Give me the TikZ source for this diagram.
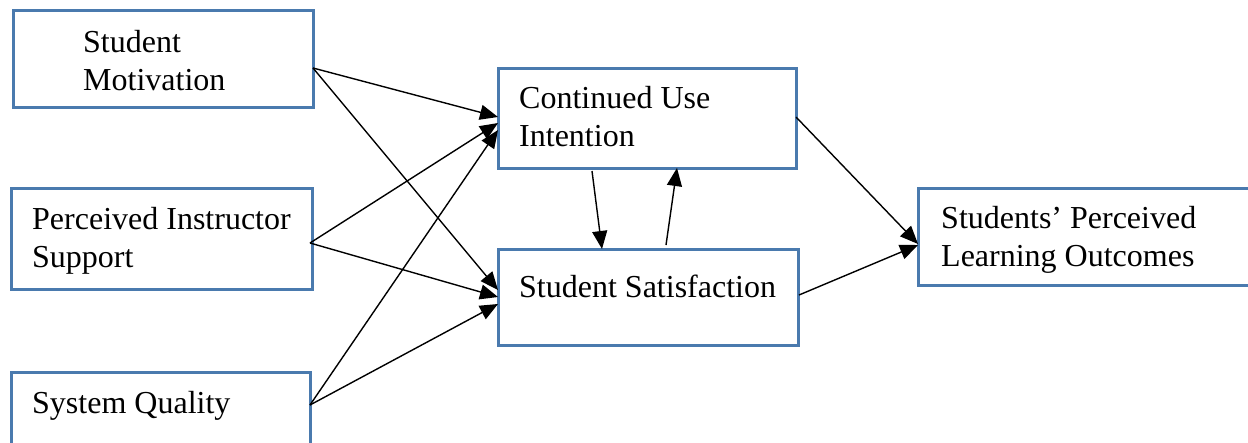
\documentclass[tikz,border=0pt]{standalone}
\usepackage{fontspec}
\setmainfont{Liberation Serif}
\usetikzlibrary{arrows.meta,calc}
\definecolor{boxblue}{HTML}{4A7AAE}
\begin{document}
\begin{tikzpicture}[x=1pt,y=-1pt,
  box/.style={draw=boxblue,line width=3pt,rectangle,anchor=north west,inner sep=0pt,outer sep=0pt},
  lbl/.style={anchor=base west,inner sep=0pt,font=\fontsize{32}{38.7}\selectfont},
  conn/.style={draw=black,line width=1.4pt,-{Triangle[length=18pt,width=15pt]}}]
\useasboundingbox (0,0) rectangle (1248,442);
\clip (0,0) rectangle (1248,442);
\node[box,minimum width=300pt,minimum height=97pt] (sm) at (13,10) {};
\node[box,minimum width=301pt,minimum height=101pt] (pis) at (11,188) {};
\node[box,minimum width=299pt,minimum height=95pt] (sq) at (11,372) {};
\node[box,minimum width=298pt,minimum height=100pt] (cui) at (498,68) {};
\node[box,minimum width=300pt,minimum height=96pt] (ss) at (498,249) {};
\node[box,minimum width=345pt,minimum height=97pt] (splo) at (918,188) {};
\node[lbl] (tsm) at (83,52) {\begin{tabular}[t]{@{}l@{}}Student\\Motivation\end{tabular}};
\node[lbl] (tpis) at (32,229) {\begin{tabular}[t]{@{}l@{}}Perceived Instructor\\Support\end{tabular}};
\node[lbl] (tsq) at (32,413) {System Quality};
\node[lbl] (tcui) at (519,108) {\begin{tabular}[t]{@{}l@{}}Continued Use\\Intention\end{tabular}};
\node[lbl] (tss) at (519,297) {Student Satisfaction};
\node[lbl] (tsplo) at (941,228) {\begin{tabular}[t]{@{}l@{}}Students’ Perceived\\Learning Outcomes\end{tabular}};
% source ports
\coordinate (psm) at ($(sm.north east)+(0,58)$);
\coordinate (ppis) at ($(pis.north east)+(-2,55)$);
\coordinate (psq) at ($(sq.north east)+(0,33)$);
% connectors
\draw[conn] (psm) -- ($(cui.north west)+(0,49)$);
\draw[conn] (psm) -- ($(ss.north west)+(0,41)$);
\draw[conn] (ppis) -- ($(cui.north west)+(0,55)$);
\draw[conn] (ppis) -- ($(ss.north west)+(0,48)$);
\draw[conn] (psq) -- ($(cui.north west)+(0,62)$);
\draw[conn] (psq) -- ($(ss.north west)+(0,55)$);
\draw[conn] ($(cui.south west)+(94,3)$) -- ($(ss.north west)+(104,0)$);
\draw[conn] ($(ss.north west)+(168,-4)$) -- ($(cui.south west)+(179,0)$);
\draw[conn] ($(cui.north east)+(0,49)$) -- ($(splo.north west)+(0,56)$);
\draw[conn] ($(ss.north east)+(1,46)$) -- ($(splo.north west)+(0,57)$);
\end{tikzpicture}
\end{document}
